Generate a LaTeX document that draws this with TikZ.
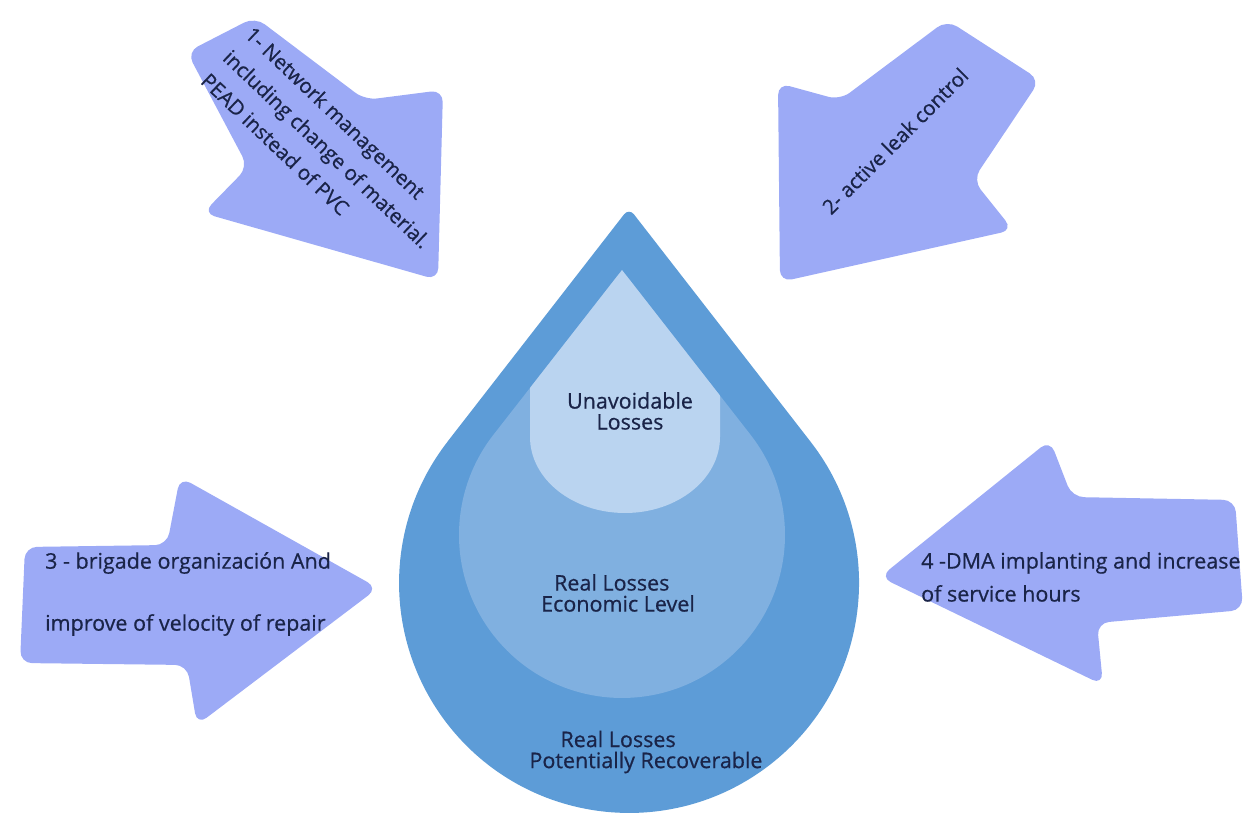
\documentclass[tikz,border=0pt]{standalone}
\usepackage{fontspec}
\setmainfont{Open Sans}
\newfontfamily\labelfont{Open Sans}[FakeBold=0.6]
\definecolor{arrowblue}{RGB}{156,170,246}
\definecolor{dropouter}{RGB}{93,156,215}
\definecolor{dropmiddle}{RGB}{128,176,224}
\definecolor{dropinner}{RGB}{186,212,240}
\definecolor{labelnavy}{RGB}{26,36,72}

\begin{document}
\begin{tikzpicture}[x=1pt,y=-1pt,
  block arrow/.style={fill=arrowblue,rounded corners=12pt},
  arrow text/.style={text=labelnavy,inner sep=0pt,align=left,font=\labelfont\fontsize{20.5}{32}\selectfont},
  drop text/.style={text=labelnavy,inner sep=0pt,font=\labelfont\fontsize{21.5}{21}\selectfont}]

  % Page area
  \useasboundingbox (0,0) rectangle (1248,821);

  % Four block arrows pointing at the drop
  \fill[block arrow] (255,17) -- (365,100) -- (443,90) -- (438,280) -- (203,213) -- (248,167) -- (187,52) -- cycle;
  \fill[block arrow] (947,20) -- (1040,80) -- (973,180) -- (1013,230) -- (780,282) -- (778,83) -- (840,100) -- cycle;
  \fill[block arrow] (25,547) -- (167,545) -- (180,477) -- (378,588) -- (197,725) -- (187,665) -- (20,663) -- cycle;
  \fill[block arrow] (880,577) -- (1050,440) -- (1072,497) -- (1235,500) -- (1243,610) -- (1097,623) -- (1103,685) -- cycle;

  % Water drop, three layers
  \fill[dropouter] (447.3,441.9) [rounded corners=8pt] -- (629,208) [sharp corners] -- (810.7,441.9)
    arc[start angle=-37.83,end angle=217.83,radius=230] -- cycle;
  \fill[dropmiddle] (493.5,434.7) [rounded corners=8pt] -- (622,270) [sharp corners] -- (750.5,434.7)
    arc[start angle=-37.96,end angle=217.96,radius=163] -- cycle;
  \begin{scope}
    \clip (493.5,434.7) -- (622,270) -- (750.5,434.7)
      arc[start angle=-37.96,end angle=217.96,radius=163] -- cycle;
    \fill[dropinner] (530,250) -- (530,437) arc[start angle=180,end angle=0,x radius=95,y radius=76]
      -- (720,250) -- cycle;
  \end{scope}

  % Labels on the arrows
  \node[arrow text,rotate=-43.6] (network) at (327,149)
    {1- Network management\\including change of material.\\PEAD instead of PVC};
  \node[arrow text,rotate=45] (leak) at (895,141) {2- active leak control};
  \node[arrow text,anchor=west,font=\labelfont\fontsize{21.5}{62}\selectfont] (brigade) at (45,594)
    {3 - brigade organización And\\improve of velocity of repair};
  \node[arrow text,anchor=west,font=\labelfont\fontsize{21.5}{33}\selectfont] (dma) at (921,577)
    {4 -DMA implanting and increase\\of service hours};

  % Labels inside the drop
  \node[drop text,align=center] (unavoidable) at (630,411) {Unavoidable\\Losses};
  \node[drop text,align=left] (economic) at (618,593) {\hspace*{13pt}Real Losses\\Economic Level};
  \node[drop text,align=left] (recoverable) at (646,752) {\hspace*{31pt}Real Losses\\Potentially Recoverable};
\end{tikzpicture}
\end{document}
